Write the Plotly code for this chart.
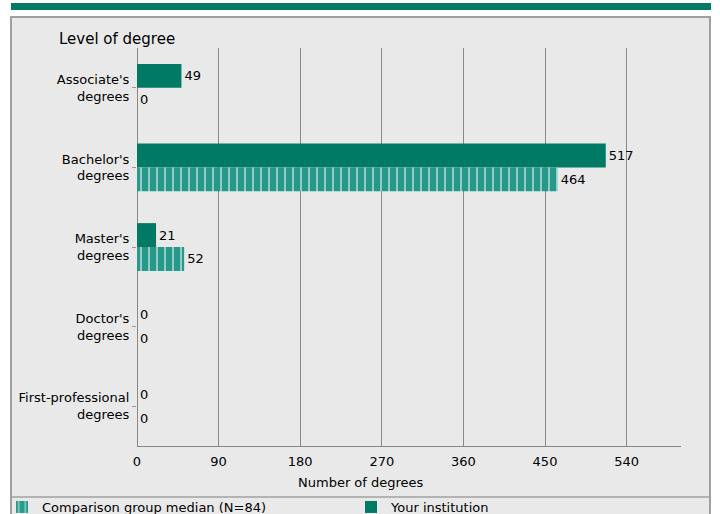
import plotly.graph_objects as go

categories = ["Associate's<br>degrees", "Bachelor's<br>degrees", "Master's<br>degrees",
              "Doctor's<br>degrees", "First-professional<br>degrees"]
your_institution = [49, 517, 21, 0, 0]
comparison_median = [0, 464, 52, 0, 0]
x_ticks = [0, 90, 180, 270, 360, 450, 540]

DARK = "#007a64"
LIGHT = "#27998a"
FONT = "DejaVu Sans"
FS = 13

W, H = 720, 514
L, R, T, B = 137, 681, 48, 446

def px(x):
    return (x - L) / (R - L)

def py(y):
    return (B - y) / (B - T)

fig = go.Figure()
fig.add_trace(go.Bar(
    y=categories, x=your_institution, orientation="h", name="Your institution",
    marker=dict(color=DARK, line=dict(width=0)),
    text=[str(v) for v in your_institution], textposition="outside",
    textfont=dict(color="black", size=FS, family=FONT), cliponaxis=False,
    legend="legend2",
))
fig.add_trace(go.Bar(
    y=categories, x=comparison_median, orientation="h", name="Comparison group median (N=84)",
    marker=dict(color=LIGHT, line=dict(width=0),
                pattern=dict(shape="|", fillmode="overlay", bgcolor=LIGHT, fgcolor="white",
                             size=8, solidity=0.25)),
    text=[str(v) for v in comparison_median], textposition="outside",
    textfont=dict(color="black", size=FS, family=FONT), cliponaxis=False,
    legend="legend",
))

shapes = [
    dict(type="rect", xref="paper", yref="paper", x0=px(11), x1=px(710), y0=py(530), y1=py(17),
         fillcolor="#e9e9e9", line=dict(color="#a0a0a0", width=2), layer="below"),
    dict(type="rect", xref="paper", yref="paper", x0=px(11), x1=px(711), y0=py(10), y1=py(3),
         fillcolor=DARK, line=dict(width=0), layer="below"),
    dict(type="line", xref="paper", yref="paper", x0=px(11), x1=px(710), y0=py(497), y1=py(497),
         line=dict(color="#a0a0a0", width=1.5), layer="below"),
]

leg_common = dict(orientation="h", xref="container", yref="container",
                  y=1 - 507 / H, xanchor="left", yanchor="middle",
                  bgcolor="rgba(0,0,0,0)", font=dict(family=FONT, size=FS))

fig.update_layout(
    width=W, height=H,
    margin=dict(l=L, r=W - R, t=T, b=H - B, pad=0, autoexpand=False),
    paper_bgcolor="white", plot_bgcolor="rgba(0,0,0,0)",
    font=dict(family=FONT, size=FS, color="black"),
    barmode="group", bargap=0.4, bargroupgap=0,
    shapes=shapes,
    showlegend=True,
    legend=dict(x=2 / W, **leg_common),
    legend2=dict(x=351 / W, **leg_common),
    annotations=[
        dict(text="Level of degree", xref="paper", yref="paper", x=px(57), y=py(39),
             xanchor="left", yanchor="middle", showarrow=False,
             font=dict(family=FONT, size=15, color="black")),
        dict(text="Number of degrees", xref="paper", yref="paper", x=px(361), y=py(483),
             xanchor="center", yanchor="middle", showarrow=False,
             font=dict(family=FONT, size=FS, color="black")),
    ],
    xaxis=dict(range=[0, 600], tickvals=x_ticks, ticktext=[str(v) for v in x_ticks],
               showgrid=True, gridcolor="#888888", gridwidth=1,
               zeroline=True, zerolinecolor="#888888", zerolinewidth=1,
               showline=True, linecolor="#888888", linewidth=1, ticks="",
               tickfont=dict(size=FS), ticklabelstandoff=3),
    yaxis=dict(autorange="reversed", showgrid=False, zeroline=False, showline=False,
               ticks="outside", ticklen=4, tickcolor="#999999", tickfont=dict(size=FS)),
)

fig.write_html("out.html", config={"displayModeBar": False},
               post_script="document.body.style.margin='0';document.body.style.overflow='hidden';")
